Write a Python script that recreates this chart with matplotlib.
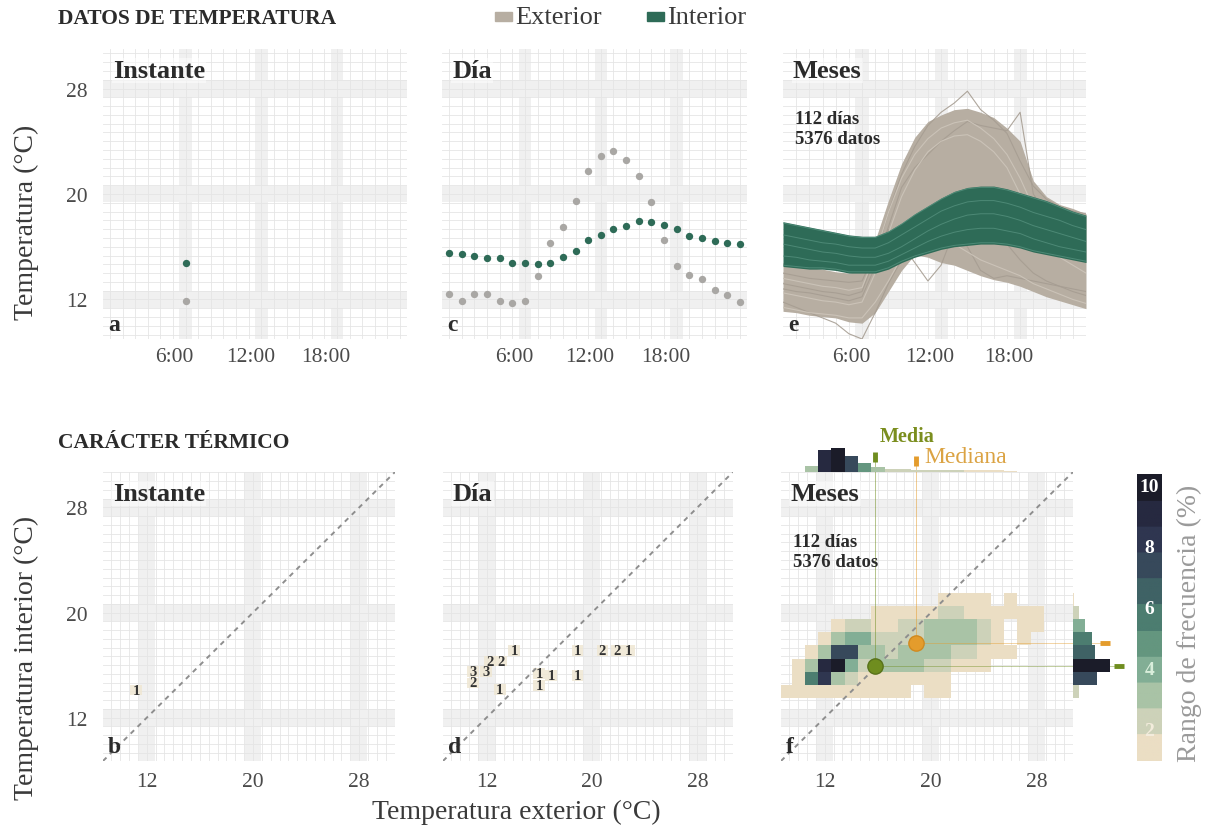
import numpy as np
import matplotlib
matplotlib.use("Agg")
import matplotlib.pyplot as plt
from matplotlib.colors import LinearSegmentedColormap, Normalize
from matplotlib.patches import Rectangle
from matplotlib.transforms import ScaledTranslation

plt.rcParams['font.family'] = ['Liberation Serif', 'DejaVu Serif']

# ---------------- datos ----------------
horas = list(range(24))
hora_etiquetas = ['6:00', '12:00', '18:00']
hora_ticks = [6, 12, 18]
temp_ticks = [12, 20, 28]

# un dia (medias horarias)
dia_interior = [15.56, 15.43, 15.30, 15.15, 15.17, 14.79, 14.79, 14.72, 14.79, 15.25, 15.68, 16.50,
                16.88, 17.33, 17.59, 17.92, 17.90, 17.64, 17.33, 16.83, 16.65, 16.42, 16.27, 16.22]
dia_exterior = [12.38, 11.87, 12.38, 12.38, 11.87, 11.70, 11.87, 13.78, 16.32, 17.46, 19.49, 21.78,
                22.87, 23.30, 22.59, 21.40, 19.37, 16.52, 14.54, 13.83, 13.52, 12.71, 12.33, 11.80]
instante = 6

# meses: envolventes horarias y algunos dias sueltos
ext_sup = [14.8, 14.6, 14.4, 14.3, 14.1, 14.0, 14.2, 16.5, 19.5, 22.3, 24.3, 25.5,
           26.0, 26.4, 26.5, 26.2, 25.8, 25.0, 24.0, 21.0, 19.8, 19.2, 18.9, 18.5]
ext_inf = [11.1, 11.0, 10.8, 10.7, 10.6, 10.3, 10.2, 11.0, 12.6, 14.2, 15.4, 15.2,
           14.8, 14.6, 14.2, 13.8, 13.5, 13.3, 13.0, 12.6, 12.2, 11.9, 11.6, 11.3]
int_sup = [17.9, 17.7, 17.5, 17.3, 17.1, 16.9, 16.8, 16.8, 17.2, 17.8, 18.5, 19.1,
           19.7, 20.2, 20.5, 20.6, 20.6, 20.4, 20.1, 19.8, 19.5, 19.1, 18.7, 18.4]
int_inf = [14.5, 14.4, 14.3, 14.3, 14.2, 14.0, 14.0, 14.0, 14.3, 14.8, 15.2, 15.5,
           15.8, 16.0, 16.1, 16.2, 16.2, 16.1, 15.9, 15.6, 15.4, 15.2, 15.0, 14.8]

dias_exterior = [
    [13.2, 13.0, 12.8, 12.6, 12.5, 12.3, 12.6, 15.2, 18.6, 21.5, 23.6, 25.2, 26.2, 26.9, 27.8, 26.4, 25.6, 24.6, 22.5, 20.6, 19.6, 19.0, 18.7, 18.5],
    [12.8, 12.6, 12.5, 12.3, 12.1, 11.9, 12.2, 14.5, 17.5, 20.5, 22.0, 23.0, 24.0, 24.8, 25.5, 25.2, 25.0, 24.8, 26.2, 20.0, 18.5, 17.6, 17.0, 16.5],
    [11.8, 11.4, 11.0, 10.6, 10.2, 9.4, 9.0, 11.0, 13.2, 15.0, 16.2, 17.0, 17.6, 18.0, 18.0, 17.6, 17.0, 16.2, 15.0, 14.0, 13.4, 13.0, 12.6, 12.3],
    [14.0, 13.8, 13.6, 13.5, 13.4, 13.3, 13.4, 15.6, 17.3, 16.2, 14.8, 13.4, 14.6, 17.2, 16.0, 14.2, 13.6, 13.8, 13.6, 13.4, 13.2, 13.0, 12.8, 12.6],
    [12.5, 12.3, 12.1, 11.9, 11.8, 11.6, 11.8, 14.0, 17.0, 19.8, 21.8, 23.2, 24.0, 24.4, 24.5, 24.0, 23.2, 22.0, 20.0, 17.5, 16.0, 15.2, 14.6, 14.0],
    [13.6, 13.4, 13.2, 13.0, 12.9, 12.7, 12.9, 15.4, 18.6, 21.2, 23.0, 24.2, 25.0, 25.4, 25.6, 25.0, 24.2, 23.0, 21.2, 19.0, 17.6, 16.8, 16.2, 15.6],
    [11.4, 11.2, 11.0, 10.9, 10.8, 10.6, 10.6, 11.8, 13.4, 15.2, 16.4, 16.8, 16.6, 16.2, 15.6, 15.0, 14.6, 14.2, 13.8, 13.2, 12.8, 12.4, 12.0, 11.7],
]
dias_interior = [
    [17.8, 17.6, 17.4, 17.2, 17.0, 16.8, 16.7, 16.7, 17.1, 17.7, 18.4, 19.0, 19.6, 20.1, 20.4, 20.5, 20.5, 20.3, 20.0, 19.7, 19.4, 19.0, 18.6, 18.3],
    [16.9, 16.7, 16.5, 16.3, 16.2, 16.0, 15.9, 15.9, 16.3, 16.9, 17.5, 18.1, 18.7, 19.1, 19.4, 19.5, 19.5, 19.3, 19.0, 18.6, 18.3, 18.0, 17.6, 17.3],
    [16.2, 16.0, 15.8, 15.6, 15.5, 15.3, 15.2, 15.2, 15.5, 16.0, 16.6, 17.2, 17.7, 18.1, 18.4, 18.5, 18.5, 18.3, 18.0, 17.6, 17.3, 17.0, 16.7, 16.4],
    [15.3, 15.2, 15.0, 14.9, 14.8, 14.6, 14.6, 14.6, 14.9, 15.4, 15.9, 16.4, 16.8, 17.1, 17.3, 17.4, 17.4, 17.2, 17.0, 16.6, 16.3, 16.0, 15.8, 15.6],
    [14.6, 14.5, 14.4, 14.4, 14.3, 14.1, 14.1, 14.1, 14.4, 14.9, 15.3, 15.6, 15.9, 16.1, 16.2, 16.3, 16.3, 16.2, 16.0, 15.7, 15.5, 15.3, 15.1, 14.9],
]

# caracter termico: recuentos por celda
inst_celdas = [(11.2, 14.1, 1)]
dia_celdas = [(14.1, 17.1, 1), (12.25, 16.3, 2), (13.1, 16.3, 2), (11.0, 15.5, 3), (11.95, 15.5, 3),
              (11.0, 14.65, 2), (13.0, 14.15, 1), (16.0, 15.35, 1), (16.9, 15.2, 1), (16.0, 14.45, 1),
              (18.9, 17.1, 1), (18.9, 15.2, 1), (20.8, 17.1, 2), (21.9, 17.1, 2), (22.8, 17.1, 1)]

# meses: frecuencia (%) en celdas de 1 grado
frec_x = list(range(9, 29))
frec_y = [21, 20, 19, 18, 17, 16, 15, 14]
frec = [
    [0,   0,   0,   0,   0,    0,   0,   0,   0,   0,   0,   0,   1.2, 1.2, 1.2, 1.2, 0,   1.2, 0,   0],
    [0,   0,   0,   0,   0,    0,   0,   1.2, 1.2, 1.3, 1.5, 1.8, 2.0, 2.0, 1.8, 1.5, 1.3, 1.2, 1.2, 1.0],
    [0,   0,   0,   0,   1.5,  2.6, 2.6, 1.6, 1.6, 2.0, 2.4, 2.9, 3.2, 3.1, 2.9, 2.2, 1.5, 0,   1.2, 1.2],
    [0,   0,   0,   1.5, 3.2,  4.2, 3.8, 2.6, 2.2, 2.2, 2.6, 2.9, 3.0, 3.4, 3.2, 2.6, 1.6, 0,   1.2, 0],
    [0,   0,   1.3, 3.0, 7.5,  7.2, 2.8, 2.8, 2.6, 2.8, 3.0, 3.0, 2.9, 2.6, 2.2, 1.6, 1.2, 1.2, 0,   0],
    [0,   1.2, 2.8, 9.2, 10.4, 4.0, 2.6, 3.0, 3.0, 2.9, 2.8, 2.6, 2.3, 1.8, 1.4, 1.2, 0,   0,   0,   0],
    [0,   1.2, 5.6, 8.0, 3.4,  2.0, 1.8, 1.6, 1.5, 1.4, 1.3, 1.2, 1.2, 0,   0,   0,   0,   0,   0,   0],
    [1.1, 1.1, 1.1, 1.1, 1.1,  1.1, 1.1, 1.1, 1.1, 1.1, 0,   1.1, 1.1, 0,   0,   0,   0,   0,   0,   0],
]
marg_exterior = [0, 0, 5.5, 20.5, 22.6, 15.0, 8.5, 5.0, 2.5, 2.4, 2.3, 2.3, 2.2, 2.2, 2.0, 1.8, 1.5, 1.2, 0, 0]
marg_interior = [1.0, 4.8, 9.5, 15.0, 17.0, 29.0, 19.0, 4.5]
media = (15.8, 15.9)
mediana = (18.9, 17.65)
escala_ticks = [2, 4, 6, 8, 10]

# ---------------- estilo ----------------
C_EXT = '#b7aea2'
C_EXT_PT = '#a9a7a4'
C_INT = '#2e6b57'
C_MEDIA = '#6f8d1f'
C_MEDIANA = '#e49c2c'
TXT = '#2b2b2b'
frec_cmap = LinearSegmentedColormap.from_list(
    'frec', ['#ebdec4', '#cdd2b9', '#a9c3a6', '#82ae95', '#64967f', '#4c7d70',
             '#3f6265', '#37495b', '#2f3650', '#262940', '#1b1c29'], N=11)
frec_norm = Normalize(1.0, 10.4, clip=True)

W, H = 1206, 829
fig = plt.figure(figsize=(W / 100, H / 100), dpi=100)


def caja(x0, y0, x1, y1):
    return [x0 / W, 1 - y1 / H, (x1 - x0) / W, (y1 - y0) / H]


def fondo(ax, xlim, ylim, xmay, ymay, xpaso, ypaso, xband, yband):
    ax.set_xlim(*xlim)
    ax.set_ylim(*ylim)
    for v in np.arange(xmay[0] - 20 * xpaso, xlim[1], xpaso):
        if v > xlim[0]:
            ax.axvline(v, color='#e5e5e5', lw=0.6, zorder=0.5)
    for v in np.arange(ymay[0] - 20 * ypaso, ylim[1], ypaso):
        if v > ylim[0]:
            ax.axhline(v, color='#e5e5e5', lw=0.6, zorder=0.5)
    for v in xmay:
        ax.axvspan(v - xband / 2, v + xband / 2, color='#f0f0f0', lw=0, zorder=0)
    for v in ymay:
        ax.axhspan(v - yband / 2, v + yband / 2, color='#f0f0f0', lw=0, zorder=0)
    for s in ax.spines.values():
        s.set_visible(False)
    ax.tick_params(length=0, labelsize=15.5, colors='#4a4a4a')


def titulo(ax, nombre, letra, conteo=False):
    ax.text(0.033, 0.965, nombre, transform=ax.transAxes, fontsize=19, fontweight='bold',
            color=TXT, va='top', ha='left', zorder=6,
            bbox=dict(facecolor='white', alpha=0.5, edgecolor='none', pad=1))
    ax.text(0.016, 0.015, letra, transform=ax.transAxes, fontsize=17, fontweight='bold',
            color=TXT, va='bottom', ha='left', zorder=6)
    if conteo:
        ax.text(0.04, 0.79, '112 días\n5376 datos', transform=ax.transAxes, fontsize=13.5,
                fontweight='bold', color=TXT, va='top', ha='left', linespacing=1.25, zorder=6)


XL_H = (-0.55, 23.55)
YL_T = (9, 31)
LIM = (8.7, 30.7)
paso_t = 8 / 12

# ---------------- fila superior ----------------
ax_a = fig.add_axes(caja(103, 50, 407, 340))
ax_c = fig.add_axes(caja(442, 50, 747, 340))
ax_e = fig.add_axes(caja(783, 50, 1086, 340))
for ax, xl in ((ax_a, XL_H), (ax_c, XL_H), (ax_e, (0, 23))):
    fondo(ax, xl, YL_T, hora_ticks, temp_ticks, 1.0, paso_t, 1.0, 1.25)
    ax.set_xticks(hora_ticks)
    ax.set_xticklabels(hora_etiquetas)
    ax.tick_params(axis='x', pad=6)
    for lab in ax.get_xticklabels():
        lab.set_transform(lab.get_transform() + ScaledTranslation(-0.11, 0, fig.dpi_scale_trans))
ax_a.set_yticks(temp_ticks)
ax_a.tick_params(axis='y', pad=11)
ax_c.set_yticks([])
ax_e.set_yticks([])

ax_a.scatter([horas[instante]], [dia_exterior[instante]], s=28, color=C_EXT_PT, zorder=3, lw=0)
ax_a.scatter([horas[instante]], [dia_interior[instante]], s=28, color=C_INT, zorder=3, lw=0)
titulo(ax_a, 'Instante', 'a')

ax_c.scatter(horas, dia_exterior, s=28, color=C_EXT_PT, zorder=3, lw=0)
ax_c.scatter(horas, dia_interior, s=28, color=C_INT, zorder=3, lw=0)
titulo(ax_c, 'Día', 'c')

ax_e.fill_between(horas, ext_inf, ext_sup, color=C_EXT, lw=0, zorder=2)
for i, d in enumerate(dias_exterior):
    ax_e.plot(horas, d, color='#a69d92' if i < 4 else '#cdc5ba', lw=0.8, alpha=0.9, zorder=2.5)
ax_e.fill_between(horas, int_inf, int_sup, color=C_INT, lw=0, zorder=3)
for d in dias_interior:
    ax_e.plot(horas, d, color='#5a9683', lw=0.7, alpha=0.7, zorder=3.5)
titulo(ax_e, 'Meses', 'e', conteo=True)

# ---------------- fila inferior ----------------
ax_b = fig.add_axes(caja(103, 473, 395, 762))
ax_d = fig.add_axes(caja(443, 473, 733, 762))
ax_f = fig.add_axes(caja(781, 473, 1073, 762))
for ax in (ax_b, ax_d, ax_f):
    fondo(ax, LIM, LIM, temp_ticks, temp_ticks, paso_t, paso_t, 1.25, 1.25)
    ax.set_xticks(temp_ticks)
    ax.tick_params(axis='x', pad=8)
    ax.plot(LIM, LIM, ls=(0, (2.5, 2.5)), color='#8e8e8e', lw=1.4, zorder=4)
ax_b.set_yticks(temp_ticks)
ax_b.tick_params(axis='y', pad=11)
ax_d.set_yticks([])
ax_f.set_yticks([])


def recuentos(ax, celdas):
    for x, y, n in celdas:
        ax.add_patch(Rectangle((x - 0.45, y - 0.4), 0.9, 0.8, color='#efe7d3', alpha=0.85,
                               lw=0, zorder=2))
    for x, y, n in celdas:
        ax.text(x, y, str(n), ha='center', va='center', fontsize=10.5, fontweight='bold',
                color='#333333', zorder=5)


recuentos(ax_b, inst_celdas)
titulo(ax_b, 'Instante', 'b')
recuentos(ax_d, dia_celdas)
titulo(ax_d, 'Día', 'd')

# mapa de frecuencias
fx_edges = np.array(frec_x + [frec_x[-1] + 1]) - 0.5
fy = frec_y[::-1]
fy_edges = np.array(fy + [fy[-1] + 1]) - 0.5
malla = np.ma.masked_equal(np.array(frec)[::-1], 0)
ax_f.pcolormesh(fx_edges, fy_edges, malla, cmap=frec_cmap, norm=frec_norm, zorder=2)
ax_f.plot([media[0], media[0]], [media[1], 31.8], color=C_MEDIA, lw=0.6, alpha=0.6,
          zorder=3, clip_on=False)
ax_f.plot([mediana[0], mediana[0]], [mediana[1], 31.5], color=C_MEDIANA, lw=0.6, alpha=0.6,
          zorder=3, clip_on=False)
ax_f.plot([media[0], 34.0], [media[1], media[1]], color=C_MEDIA, lw=0.6, alpha=0.5,
          zorder=3, clip_on=False)
ax_f.plot([mediana[0], 33.0], [mediana[1], mediana[1]], color=C_MEDIANA, lw=0.6, alpha=0.5,
          zorder=3, clip_on=False)
ax_f.plot(*media, 'o', ms=11, color=C_MEDIA, mec='#58721a', mew=1, zorder=6)
ax_f.plot(*mediana, 'o', ms=11, color=C_MEDIANA, mec='#d08a20', mew=1, zorder=6)
titulo(ax_f, 'Meses', 'f', conteo=True)

# marginales
marg_norm_x = Normalize(0, max(marg_exterior))
marg_norm_y = Normalize(0, max(marg_interior))
ax_top = fig.add_axes(caja(781, 420, 1073, 473))
ax_top.set_xlim(*LIM)
ax_top.set_ylim(0, 53 * 0.94)
ax_top.bar(frec_x, marg_exterior, width=1.0,
           color=[frec_cmap(marg_norm_x(v)) for v in marg_exterior], lw=0)
ax_top.plot(media[0], 15 * 0.94, marker='|', ms=7, mew=3.5, color=C_MEDIA)
ax_top.plot(mediana[0], 11 * 0.94, marker='|', ms=7, mew=3.5, color=C_MEDIANA)
ax_top.text(16.15, 36 * 0.94, 'Media', fontsize=14.5, fontweight='bold', color='#7b8e1e',
            ha='left', va='center')
ax_top.text(19.5, 15 * 0.94, 'Mediana', fontsize=17, color='#dba343', ha='left', va='center')
ax_top.axis('off')

ax_rt = fig.add_axes(caja(1073, 473, 1125, 762))
ax_rt.set_ylim(*LIM)
ax_rt.set_xlim(0, 52 * 29 / 37)
ax_rt.barh(frec_y, marg_interior, height=1.0,
           color=[frec_cmap(marg_norm_y(v)) for v in marg_interior], lw=0)
ax_rt.plot(25, mediana[1], marker='_', ms=7, mew=3.5, color=C_MEDIANA)
ax_rt.plot(36, media[1], marker='_', ms=7, mew=3.5, color=C_MEDIA)
ax_rt.axis('off')

# escala de color
ax_cb = fig.add_axes(caja(1137, 475, 1162, 762))
ax_cb.imshow(np.linspace(1.0, 10.4, 300).reshape(-1, 1), extent=[0, 1, 1.0, 10.4],
             origin='lower', aspect='auto', cmap=frec_cmap, norm=frec_norm)
ax_cb.set_xlim(0, 1)
ax_cb.set_ylim(1.0, 10.4)
etq_col = {2: '#f3ecdc', 4: '#d9eedb', 6: 'white', 8: 'white', 10: 'white'}
for v in escala_ticks:
    ax_cb.text(0.5, v, str(v), ha='center', va='center', fontsize=14, fontweight='bold',
               color=etq_col[v])
ax_cb.axis('off')
fig.text(1189 / W, 1 - 623 / H, 'Rango de frecuencia (%)', rotation=90, fontsize=20,
         color='#9a9a9a', ha='center', va='center')

# ---------------- textos generales ----------------
fig.text(58 / W, 1 - 19 / H, 'DATOS DE TEMPERATURA', fontsize=15.5, fontweight='bold',
         color=TXT, va='center', ha='left')
fig.text(58 / W, 1 - 443 / H, 'CARÁCTER TÉRMICO', fontsize=15.5, fontweight='bold',
         color=TXT, va='center', ha='left')
fig.add_artist(Rectangle((495 / W, 1 - 22 / H), 17 / W, 9 / H, color=C_EXT,
                         transform=fig.transFigure))
fig.text(515 / W, 1 - 18 / H, 'Exterior', fontsize=19, color='#3a3a3a', va='center', ha='left')
fig.add_artist(Rectangle((647 / W, 1 - 22 / H), 17 / W, 9 / H, color=C_INT,
                         transform=fig.transFigure))
fig.text(667 / W, 1 - 18 / H, 'Interior', fontsize=19, color='#3a3a3a', va='center', ha='left')

fig.text(26 / W, 1 - 222 / H, 'Temperatura (°C)', rotation=90, fontsize=20, color='#3a3a3a',
         ha='center', va='center')
fig.text(26 / W, 1 - 658 / H, 'Temperatura interior (°C)', rotation=90, fontsize=20,
         color='#3a3a3a', ha='center', va='center')
fig.text(516 / W, 1 - 812 / H, 'Temperatura exterior (°C)', fontsize=20, color='#3a3a3a',
         ha='center', va='center')

fig.savefig('out.png', dpi=100, facecolor='white')
